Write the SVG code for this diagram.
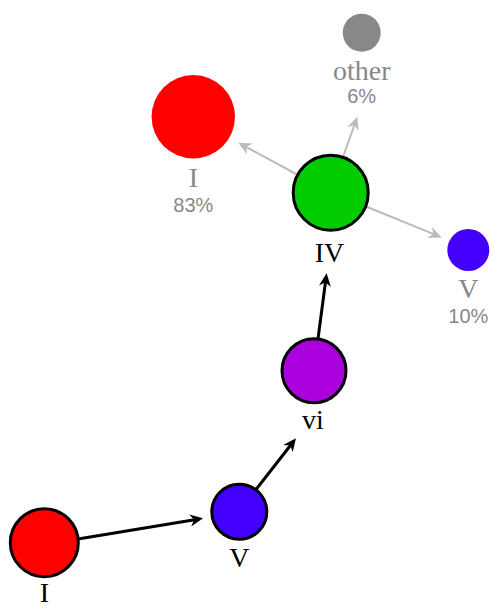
<svg xmlns="http://www.w3.org/2000/svg" width="493" height="608" viewBox="0 0 493 608">
<style>
.lbl{font-family:"Liberation Serif","Times New Roman",serif;font-size:28px;text-anchor:middle}
.main{fill:#000}
.alt{fill:#888}
.pct{font-family:"Liberation Sans",Arial,sans-serif;font-size:20px;text-anchor:middle;fill:#888}
.path{stroke:#000;stroke-width:3}
.edge-main{stroke:#000;stroke-width:3;fill:none;marker-end:url(#ab)}
.edge-opt{stroke:#bbb;stroke-width:2;fill:none;marker-end:url(#ag)}
</style>
<defs>
<marker id="ab" markerUnits="userSpaceOnUse" viewBox="-11 -7 16 14" refX="0" refY="0" markerWidth="16" markerHeight="14" orient="auto" overflow="visible">
<path d="M4,0 L-9,-6 L-5,0 L-9,6 Z" fill="#000"/>
</marker>
<marker id="ag" markerUnits="userSpaceOnUse" viewBox="-11 -7 16 14" refX="0" refY="0" markerWidth="16" markerHeight="14" orient="auto" overflow="visible">
<path d="M4,0 L-9,-6 L-5,0 L-9,6 Z" fill="#bbb"/>
</marker>
</defs>
<rect width="493" height="608" fill="#fff"/>
<g id="connectors">
<line class="edge-main" x1="78" y1="539" x2="199.1" y2="519"/>
<line class="edge-main" x1="256" y1="489.5" x2="293.5" y2="441.5"/>
<line class="edge-main" x1="318" y1="339" x2="326.1" y2="277.3"/>
<line class="edge-opt" x1="297" y1="174.5" x2="241.8" y2="144.6"/>
<line class="edge-opt" x1="343" y1="157" x2="356" y2="120.5"/>
<line class="edge-opt" x1="366" y1="206.5" x2="438" y2="235.9"/>
</g>
<g id="node-I-start">
<circle class="path" cx="44.3" cy="542.7" r="34" fill="#ff0000"/>
<text class="lbl main" x="44.3" y="602">I</text>
</g>
<g id="node-V-path">
<circle class="path" cx="239.3" cy="511.7" r="27.5" fill="#4400ff"/>
<text class="lbl main" x="239.3" y="567">V</text>
</g>
<g id="node-vi">
<circle class="path" cx="314" cy="370.7" r="32" fill="#aa00dd"/>
<text class="lbl main" x="313" y="429">vi</text>
</g>
<g id="node-IV">
<circle class="path" cx="330.7" cy="192.7" r="37.5" fill="#00cc00"/>
<text class="lbl main" x="329.5" y="261.5">IV</text>
</g>
<g id="node-I-next">
<circle cx="193.3" cy="116.7" r="41.7" fill="#ff0000"/>
<text class="lbl alt" x="193.3" y="187">I</text>
<text class="pct" x="193.3" y="212">83%</text>
</g>
<g id="node-other">
<circle cx="361.7" cy="32.7" r="19" fill="#888"/>
<text class="lbl alt" x="361.7" y="79.5">other</text>
<text class="pct" x="361.7" y="103">6%</text>
</g>
<g id="node-V-next">
<circle cx="468.3" cy="250" r="21" fill="#4400ff"/>
<text class="lbl alt" x="468.3" y="297.5">V</text>
<text class="pct" x="468.3" y="323">10%</text>
</g>
</svg>
